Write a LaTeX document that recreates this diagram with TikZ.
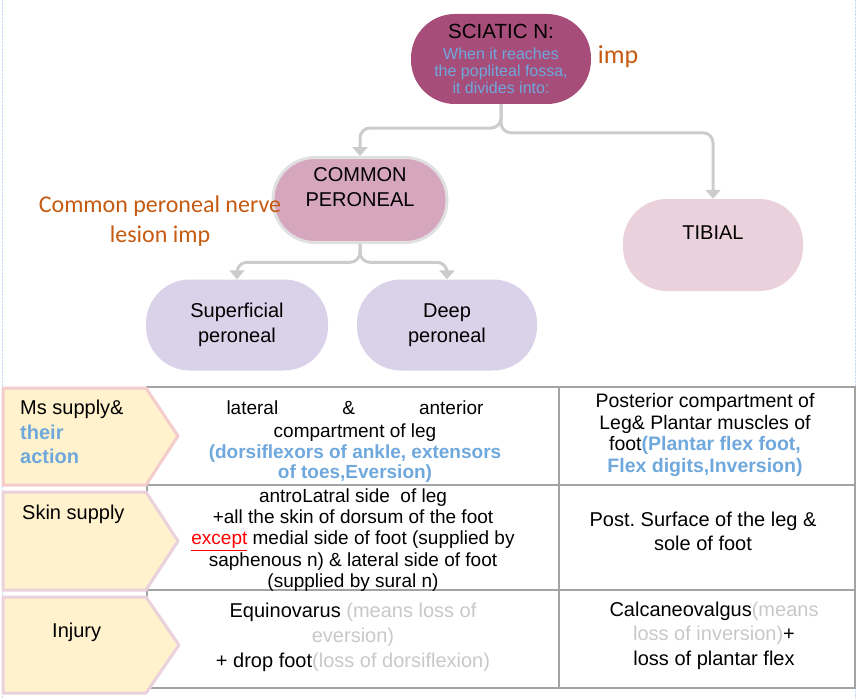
\documentclass[tikz,border=0pt]{standalone}
\usepackage{fontspec}
\setmainfont{Liberation Sans}
\newfontfamily\calibri{Carlito}
\usetikzlibrary{arrows.meta}
\frenchspacing

\definecolor{sciaticfill}{HTML}{A64D79}
\definecolor{commonfill}{HTML}{D5A6BD}
\definecolor{tibialfill}{HTML}{EAD1DC}
\definecolor{branchfill}{HTML}{D9D2E9}
\definecolor{headfill}{HTML}{FFF2CC}
\definecolor{headpink}{HTML}{F4CCCC}
\definecolor{headmauve}{HTML}{EAD1DC}
\definecolor{linkgray}{HTML}{CCCCCC}
\definecolor{gridgray}{HTML}{A3A3A3}
\definecolor{actionblue}{HTML}{6FA8DC}
\definecolor{faintgray}{HTML}{C8C8C8}
\definecolor{noteorange}{HTML}{C55A11}
\definecolor{guideblue}{HTML}{C9DAF8}

\begin{document}
\begin{tikzpicture}[
  x=1pt, y=-1pt,
  nerve/.style={rectangle, rounded corners=44pt, minimum width=180pt, minimum height=91pt,
    inner sep=0pt, align=center, font=\fontsize{20}{25}\selectfont},
  nervelabel/.style={align=center, inner sep=0pt, font=\fontsize{20}{25}\selectfont},
  link/.style={draw=linkgray, line width=3pt, rounded corners=10pt, -{Triangle[width=15pt,length=9pt]}},
  rowhead/.style={fill=headfill, line width=3pt, line join=round},
  headtext/.style={anchor=north west, inner sep=0pt, align=left, font=\fontsize{20}{24.5}\selectfont},
  cell/.style={inner sep=0pt, align=center, font=\fontsize{19}{21.5}\selectfont},
  note/.style={text=noteorange, inner sep=0pt, align=center}
]
\useasboundingbox (0,0) rectangle (866,698);
\draw[guideblue, densely dotted] (2,0) -- (2,698) (855,0) -- (855,387) (855,688) -- (855,698);

% nerve tree
\node[nerve, fill=sciaticfill, minimum height=90pt, font=\fontsize{16}{17}\selectfont] (sciatic) at (501,59)
  {{\fontsize{20.5}{22}\selectfont SCIATIC N:}\\[4pt]
   \textcolor{actionblue}{When it reaches}\\
   \textcolor{actionblue}{the popliteal fossa,}\\
   \textcolor{actionblue}{it divides into:}};
\node[nerve, fill=commonfill, draw=black!12, line width=3pt, minimum width=174pt, minimum height=85pt,
  rounded corners=42pt, label={[nervelabel, yshift=13pt]center:COMMON\\PERONEAL}] (common) at (360,200) {};
\node[nerve, fill=tibialfill, minimum height=92pt,
  label={[nervelabel, yshift=12pt]center:TIBIAL}] (tibial) at (713,245) {};
\node[nerve, fill=branchfill, minimum width=182pt] (superficial) at (237,325) {Superficial\\peroneal};
\node[nerve, fill=branchfill] (deep) at (447,325) {Deep\\peroneal};

\draw[link] (sciatic.south) |- ([yshift=28pt]common.north) -- (common.north);
\draw[link] (sciatic.south) |- ([yshift=66pt]tibial.north) -- (tibial.north);
\draw[link] (common.south) |- ([yshift=17pt]superficial.north) -- (superficial.north);
\draw[link] (common.south) |- ([yshift=17pt]deep.north) -- (deep.north);

\node[note, font=\calibri\fontsize{26}{30}\selectfont] (impnote) at (618,57) {imp};
\node[note, font=\calibri\fontsize{24}{30}\selectfont] (lesionnote) at (160,221) {Common peroneal nerve\\lesion imp};

% comparison table
\draw[gridgray, line width=1.5pt] (147,387) rectangle (855,688)
  (147,485) -- (855,485) (147,590) -- (855,590) (559,387) -- (559,688);

\draw[rowhead, draw=headpink] (3,388) -- (146,388) -- (178,436) -- (146,485) -- (3,485) -- cycle;
\draw[rowhead, draw=headmauve] (3,492) -- (146,492) -- (178,541) -- (146,590) -- (3,590) -- cycle;
\draw[rowhead, draw=headmauve] (3,597) -- (146,597) -- (179,645) -- (146,693) -- (3,693) -- cycle;

\node[headtext] (msrow) at (20,400)
  {Ms supply\&\\\textcolor{actionblue}{\textbf{their}}\\\textcolor{actionblue}{\textbf{action}}};
\node[headtext] (skinrow) at (22,504.5) {Skin supply};
\node[headtext] (injuryrow) at (52,622.5) {Injury};

\node[cell, font=\fontsize{19}{20.5}\selectfont] (msperoneal) at (355,442)
  {\makebox[257pt]{lateral\hfill\&\hfill anterior}\\[2.5pt]
   compartment of leg\\
   \textcolor{actionblue}{\textbf{(dorsiflexors of ankle, extensors}}\\
   \textcolor{actionblue}{\textbf{of toes,Eversion)}}};
\node[cell, font=\fontsize{19.5}{21.7}\selectfont] (mstibial) at (705,435)
  {Posterior compartment of\\Leg\& Plantar muscles of\\
   foot\textcolor{actionblue}{\textbf{(Plantar flex foot,}}\\
   \textcolor{actionblue}{\textbf{Flex digits,Inversion)}}};

\node[cell, font=\fontsize{19}{21.2}\selectfont] (skinperoneal) at (353,540)
  {antroLatral side\ \ of leg\\
   +all the skin of dorsum of the foot\\
   \textcolor{red}{\underline{except}} medial side of foot (supplied by\\
   saphenous n) \& lateral side of foot\\
   (supplied by sural n)};
\node[cell, font=\fontsize{20}{24}\selectfont] (skintibial) at (703,531)
  {Post. Surface of the leg \&\\sole of foot};

\node[cell, font=\fontsize{20}{25}\selectfont] (injperoneal) at (353,637)
  {Equinovarus \textcolor{faintgray}{(means loss of}\\
   \textcolor{faintgray}{eversion)}\\
   + drop foot\textcolor{faintgray}{(loss of dorsiflexion)}};
\node[cell, font=\fontsize{20}{24.5}\selectfont] (injtibial) at (714,635.5)
  {Calcaneovalgus\textcolor{faintgray}{(means}\\
   \textcolor{faintgray}{loss of inversion)}+\\
   loss of plantar flex};
\end{tikzpicture}
\end{document}
